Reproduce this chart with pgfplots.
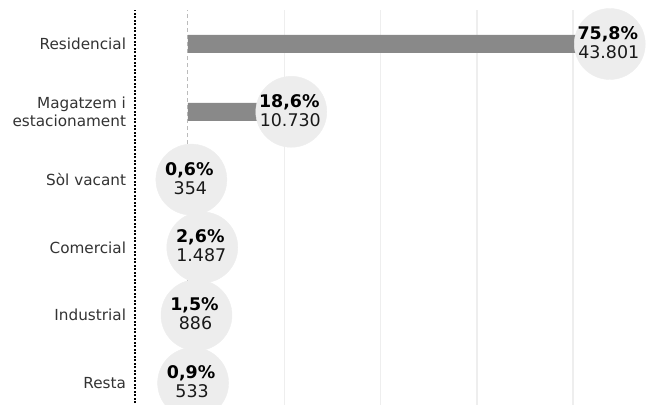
\documentclass[border=0pt]{standalone}
\usepackage{fontspec}
\setmainfont{DejaVu Sans}
\usepackage{pgfplots}
\pgfplotsset{compat=1.18}
\usepackage{pgfplotstable}

\definecolor{barc}{HTML}{898989}
\definecolor{circ}{HTML}{EDEDED}
\definecolor{gridc}{HTML}{EEEEEE}
\definecolor{zeroc}{HTML}{BBBBBB}
\definecolor{labc}{HTML}{333333}

% y = row (Residencial on top), value = parcels, pct / txt = printed labels
\pgfplotstableread[col sep=semicolon]{
y;value;pct;txt
5;43801;75,8;43.801
4;10730;18,6;10.730
3;354;0,6;354
2;1487;2,6;1.487
1;886;1,5;886
0;533;0,9;533
}\usos

\begin{document}
\begin{tikzpicture}
\begin{axis}[
  at={(135bp,0bp)}, anchor=south west,
  scale only axis, width=518bp, height=405bp,
  xmin=-5500, xmax=48290, ymin=-0.3245, ymax=5.649,
  clip=false,
  axis line style={draw=none}, tick style={draw=none},
  xtick=\empty,
  ytick={0,...,5},
  yticklabels={Resta,Industrial,Comercial,Sòl vacant,{Magatzem i\\estacionament},Residencial},
  yticklabel style={align=right, font=\fontsize{15.3}{18}\selectfont, text=labc, xshift=-5.5bp},
]
\pgfplotsinvokeforeach{10000,20000,30000,40000}{
  \draw[gridc, line width=1.5bp] (axis cs:#1,-0.4) -- (axis cs:#1,5.5);
}
\draw[zeroc, line width=1bp, dash pattern=on 4bp off 3bp] (axis cs:0,-0.4) -- (axis cs:0,5.5);
\draw[black, line width=1.1bp, dash pattern=on 2bp off 1.5bp] (axis cs:-5500,-0.4) -- (axis cs:-5500,5.5);

\addplot[xbar, bar width=18bp, fill=barc, draw=none] table[x=value, y=y]{\usos};

\addplot[only marks, mark=*, mark size=35.5bp, mark options={fill=circ, draw=circ}]
  table[x=value, y=y]{\usos};

% percentage (bold) and count inside each circle
\addplot[draw=none, mark=none, point meta=explicit symbolic,
  nodes near coords={\textbf{\pgfplotspointmeta\%}},
  every node near coord/.append style={anchor=base, xshift=-2bp, yshift=4.5bp,
    font=\fontsize{17.5}{20}\selectfont, text=black, inner sep=0pt},
] table[x=value, y=y, meta=pct]{\usos};
\addplot[draw=none, mark=none, point meta=explicit symbolic,
  nodes near coords={\pgfplotspointmeta},
  every node near coord/.append style={anchor=base, xshift=-1bp, yshift=-14.5bp,
    font=\fontsize{17.5}{20}\selectfont, text=black!90, inner sep=0pt},
] table[x=value, y=y, meta=txt]{\usos};
\end{axis}
\pgfresetboundingbox
\useasboundingbox (0,0) rectangle (653bp,405bp);
\end{tikzpicture}
\end{document}
